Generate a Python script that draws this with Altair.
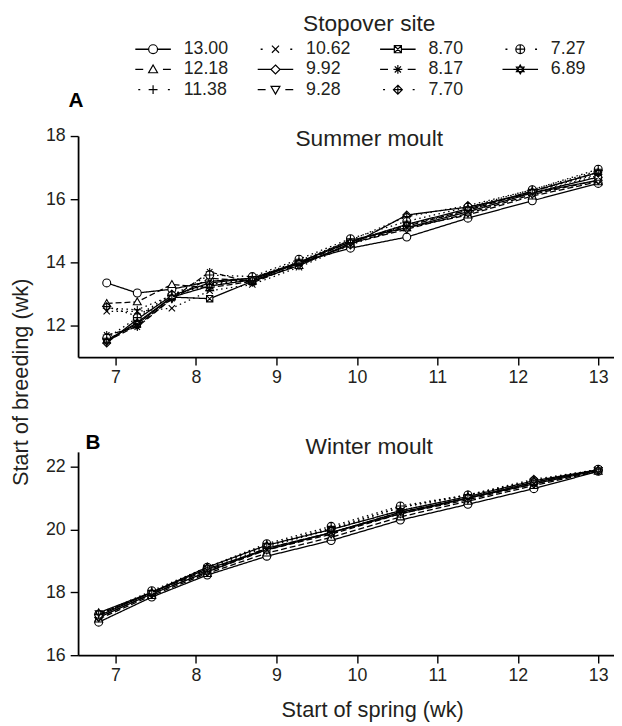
import altair as alt
import pandas as pd

# ---------------- data ----------------
series = ["13.00", "12.18", "11.38", "10.62", "9.92", "9.28", "8.70", "8.17", "7.70", "7.27", "6.89"]
styles = ["solid", "dashed", "dotted", "dotted", "solid", "dashed", "solid", "dashed", "dotted", "dotted", "solid"]
legend_col = [0, 0, 0, 1, 1, 1, 2, 2, 2, 3, 3]
legend_row = [0, 1, 2, 0, 1, 2, 0, 1, 2, 0, 1]

# marker glyphs (SVG paths in unit box)
CIRC = "M1,0A1,1,0,1,1,-1,0A1,1,0,1,1,1,0Z"
shapes = [
    CIRC,                                                     # 13.00 open circle
    "M0,-1L1,0.75L-1,0.75Z",                                   # 12.18 triangle up
    "M-1,0L1,0M0,-1L0,1",                                      # 11.38 plus
    "M-0.8,-0.8L0.8,0.8M-0.8,0.8L0.8,-0.8",                    # 10.62 cross
    "M0,-1L1,0L0,1L-1,0Z",                                     # 9.92 diamond
    "M0,1L1,-0.75L-1,-0.75Z",                                  # 9.28 triangle down
    "M-0.8,-0.8L0.8,-0.8L0.8,0.8L-0.8,0.8ZM-0.8,-0.8L0.8,0.8M-0.8,0.8L0.8,-0.8",  # 8.70 boxed x
    "M-1,0L1,0M0,-1L0,1M-0.7,-0.7L0.7,0.7M-0.7,0.7L0.7,-0.7",  # 8.17 asterisk
    "M0,-1L1,0L0,1L-1,0ZM-1,0L1,0M0,-1L0,1",                   # 7.70 diamond plus
    CIRC + "M-1,0L1,0M0,-1L0,1",                               # 7.27 circle plus
    "M0,-1L0.866,0.5L-0.866,0.5ZM0,1L0.866,-0.5L-0.866,-0.5Z", # 6.89 hexagram
]

x_summer = [6.89, 7.27, 7.70, 8.17, 8.70, 9.28, 9.92, 10.62, 11.38, 12.18, 13.00]
summer = {
    "13.00": [13.35, 13.03, 13.15, 13.40, 13.50, 14.00, 14.45, 14.80, 15.40, 15.95, 16.50],
    "12.18": [12.70, 12.75, 13.30, 13.20, 13.40, 13.90, 14.60, 15.10, 15.50, 16.10, 16.55],
    "11.38": [12.55, 12.50, 12.95, 13.30, 13.45, 14.00, 14.65, 15.20, 15.65, 16.25, 16.80],
    "10.62": [12.45, 12.45, 12.55, 13.10, 13.30, 13.85, 14.55, 15.20, 15.60, 16.20, 16.75],
    "9.92":  [11.45, 12.20, 12.95, 13.35, 13.50, 13.95, 14.55, 15.50, 15.75, 16.20, 16.60],
    "9.28":  [11.50, 12.00, 12.85, 13.50, 13.40, 13.90, 14.60, 15.05, 15.55, 16.15, 16.60],
    "8.70":  [11.55, 12.05, 12.90, 12.85, 13.40, 14.00, 14.70, 15.10, 15.60, 16.20, 16.70],
    "8.17":  [11.70, 11.95, 12.85, 13.70, 13.35, 13.95, 14.65, 15.15, 15.65, 16.25, 16.85],
    "7.70":  [12.60, 12.30, 13.00, 13.30, 13.50, 14.05, 14.70, 15.45, 15.80, 16.30, 16.90],
    "7.27":  [11.60, 12.25, 12.95, 13.60, 13.55, 14.10, 14.75, 15.30, 15.75, 16.30, 16.95],
    "6.89":  [11.50, 12.10, 12.90, 13.25, 13.45, 14.00, 14.65, 15.20, 15.70, 16.25, 16.85],
}

x_winter = [6.79, 7.45, 8.14, 8.88, 9.68, 10.54, 11.38, 12.20, 13.00]
winter = {
    "13.00": [17.05, 17.85, 18.55, 19.15, 19.65, 20.30, 20.80, 21.30, 21.85],
    "12.18": [17.15, 17.90, 18.60, 19.25, 19.75, 20.40, 20.90, 21.40, 21.85],
    "11.38": [17.30, 18.00, 18.75, 19.50, 20.05, 20.70, 21.10, 21.55, 21.90],
    "10.62": [17.25, 18.00, 18.70, 19.45, 20.00, 20.60, 21.05, 21.50, 21.90],
    "9.92":  [17.20, 17.95, 18.65, 19.40, 19.90, 20.55, 21.00, 21.45, 21.88],
    "9.28":  [17.20, 17.95, 18.65, 19.35, 19.85, 20.50, 20.95, 21.45, 21.88],
    "8.70":  [17.25, 18.00, 18.75, 19.35, 19.90, 20.50, 21.00, 21.50, 21.90],
    "8.17":  [17.30, 18.00, 18.70, 19.40, 19.90, 20.55, 21.00, 21.50, 21.90],
    "7.70":  [17.30, 18.00, 18.80, 19.50, 20.00, 20.70, 21.10, 21.60, 21.90],
    "7.27":  [17.30, 18.05, 18.80, 19.55, 20.10, 20.75, 21.10, 21.55, 21.92],
    "6.89":  [17.35, 18.00, 18.80, 19.50, 20.00, 20.60, 21.05, 21.55, 21.90],
}

x_ticks = [7, 8, 9, 10, 11, 12, 13]
y_ticks_a = [12, 14, 16, 18]
y_ticks_b = [16, 18, 20, 22]

# ---------------- styling ----------------
FONT = "Liberation Sans"
TXT = "#231f20"
W = 543
XDOM = [6.534, 13.196]
style_of = dict(zip(series, styles))
dash_scale = alt.Scale(domain=["solid", "dashed", "dotted"], range=[[1, 0], [6, 3], [1.5, 3.5]])
shape_scale = alt.Scale(domain=series, range=shapes)


def long_df(xs, table):
    rows = []
    for s in series:
        for xv, yv in zip(xs, table[s]):
            rows.append({"series": s, "style": style_of[s], "x": xv, "y": yv})
    return pd.DataFrame(rows)


def panel(df, ydom, yticks, height, xtitle, ytitle_kw, letter, letter_pos, name, name_y):
    xaxis_kw = dict(values=x_ticks, format="d", tickSize=8, labelPadding=4, labelFontSize=18,
                    grid=False, domainColor="black", domainWidth=1.8, tickColor="black",
                    tickWidth=1.4, labelColor=TXT, labelFont=FONT)
    if xtitle:
        xaxis_kw.update(title=xtitle, titleFontSize=22, titleFont=FONT, titleColor=TXT,
                        titleFontWeight="normal", titleX=298, titleY=62,
                        titleBaseline="alphabetic")
    else:
        xaxis_kw.update(title=None)
    yaxis_kw = dict(values=yticks, tickSize=8, labelPadding=5, labelFontSize=18, grid=False,
                    domainColor="black", domainWidth=1.8, tickColor="black", tickWidth=1.4,
                    labelColor=TXT, labelFont=FONT)
    yaxis_kw.update(ytitle_kw)
    base = alt.Chart(df).encode(
        x=alt.X("x:Q", scale=alt.Scale(domain=XDOM, nice=False, zero=False), axis=alt.Axis(**xaxis_kw)),
        y=alt.Y("y:Q", scale=alt.Scale(domain=ydom, nice=False, zero=False), axis=alt.Axis(**yaxis_kw)),
    )
    lines = base.mark_line(color="black", strokeWidth=1.3).encode(
        detail="series:N",
        strokeDash=alt.StrokeDash("style:N", scale=dash_scale, legend=None),
        order="x:Q",
    )
    points = base.mark_point(filled=False, fill="white", stroke="black", strokeWidth=1.1,
                             size=64, opacity=1).encode(
        shape=alt.Shape("series:N", scale=shape_scale, legend=None)
    )
    ann = pd.DataFrame({"t": [name]})
    name_txt = alt.Chart(ann).mark_text(font=FONT, fontSize=23, color=TXT, align="center",
                                        baseline="alphabetic").encode(
        x=alt.value(295), y=alt.value(name_y), text="t:N")
    let = pd.DataFrame({"t": [letter]})
    let_txt = alt.Chart(let).mark_text(font=FONT, fontSize=21, fontWeight="bold", color="black",
                                       align="center", baseline="alphabetic").encode(
        x=alt.value(letter_pos[0]), y=alt.value(letter_pos[1]), text="t:N")
    return alt.layer(lines, points, name_txt, let_txt).properties(width=W, height=height)


dfA = long_df(x_summer, summer)
dfB = long_df(x_winter, winter)

panelA = panel(dfA, [11, 18], y_ticks_a, 224, None,
               dict(title="Start of breeding (wk)", titleFontSize=22, titleFont=FONT,
                    titleColor=TXT, titleFontWeight="normal", titleAngle=270,
                    titleX=-58, titleY=249, titleAlign="center", titleBaseline="middle"),
               "A", (-2, -29), "Summer moult", 10)
panelB = panel(dfB, [16, 22.47], y_ticks_b, 206, "Start of spring (wk)",
               dict(title=None), "B", (15, -3), "Winter moult", 2)

# ---------------- legend ----------------
leg = pd.DataFrame({"series": series, "style": styles, "col": legend_col, "row": legend_row})
lx = alt.Scale(domain=[-0.6129, 3.766], nice=False, zero=False)
ly = alt.Scale(domain=[-1.805, 3.073], nice=False, zero=False, reverse=True)
lbase = alt.Chart(leg).encode(x=alt.X("col:Q", scale=lx, axis=None),
                              y=alt.Y("row:Q", scale=ly, axis=None))
r_solid = lbase.transform_filter(alt.datum.style == "solid").mark_rule(
    color="black", strokeWidth=1.4, xOffset=-18, x2Offset=18).encode(x2="col:Q")
r_dash = lbase.transform_filter(alt.datum.style == "dashed").mark_rule(
    color="black", strokeWidth=1.4, xOffset=-18, x2Offset=18, strokeDash=[8, 20]).encode(x2="col:Q")
r_dot = lbase.transform_filter(alt.datum.style == "dotted").mark_rule(
    color="black", strokeWidth=1.4, xOffset=-15, x2Offset=17, strokeDash=[2, 28]).encode(x2="col:Q")
l_pts = lbase.mark_point(filled=False, fill="white", stroke="black", strokeWidth=1.2,
                         size=81, opacity=1).encode(
    shape=alt.Shape("series:N", scale=shape_scale, legend=None))
l_txt = lbase.mark_text(font=FONT, fontSize=18, color=TXT, align="left", baseline="middle",
                        dx=31).encode(text="series:N")
l_title = alt.Chart(pd.DataFrame({"t": ["Stopover site"]})).mark_text(
    font=FONT, fontSize=23, color=TXT, align="center", baseline="alphabetic").encode(
    x=alt.value(295), y=alt.value(19), text="t:N")
legend = alt.layer(r_solid, r_dash, r_dot, l_pts, l_txt, l_title).properties(width=W, height=100)

chart = alt.vconcat(
    legend,
    alt.vconcat(panelA, panelB, spacing=96, bounds="flush"),
    spacing=25, bounds="flush",
).properties(padding={"left": 2, "top": 0, "right": 0, "bottom": 0}).configure_view(stroke=None)

chart.save("out.html", embed_options={"renderer": "svg", "actions": False})
